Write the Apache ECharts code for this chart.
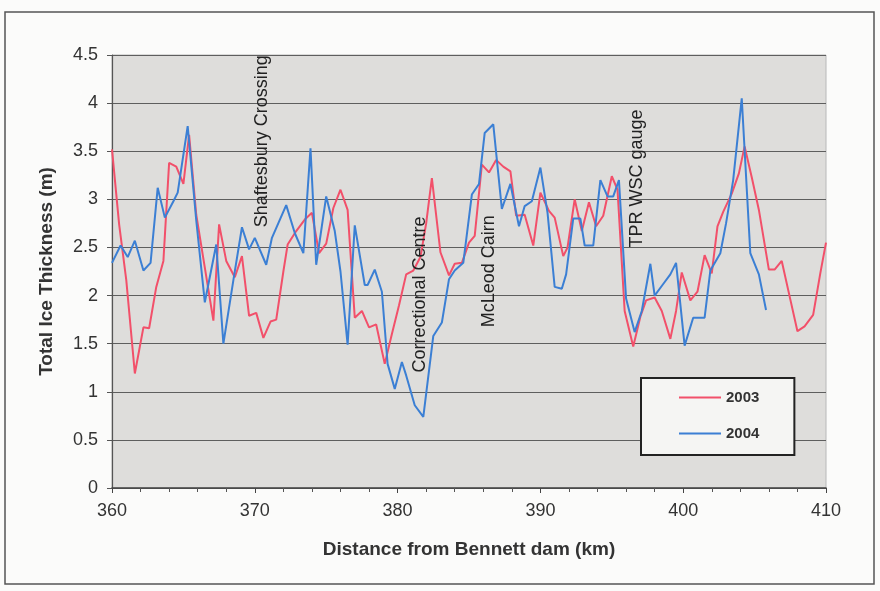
<!DOCTYPE html>
<html>
<head>
<meta charset="utf-8">
<script src="https://cdn.jsdelivr.net/npm/echarts@6/dist/echarts.min.js"></script>
<style>
html,body{margin:0;padding:0;background:#fbfbfa;}
#chart{width:880px;height:591px;}
</style>
</head>
<body>
<div id="chart"></div>
<script>
// ---- data ----
const dist2003 = [360.0,360.5,361.0,361.6,362.2,362.6,363.1,363.6,364.0,364.5,365.0,365.4,365.9,366.5,367.1,367.5,368.0,368.6,369.1,369.6,
  370.1,370.6,371.1,371.5,372.0,372.3,372.9,373.5,374.0,374.5,375.0,375.5,376.0,376.5,377.0,377.5,378.0,378.5,379.1,379.6,
  380.1,380.6,381.1,381.6,382.0,382.4,383.0,383.6,384.0,384.5,385.0,385.4,385.9,386.4,386.9,387.4,387.9,388.3,388.9,389.5,
  390.0,390.6,391.0,391.6,391.9,392.4,392.9,393.4,393.9,394.4,395.0,395.4,395.9,396.5,397.0,397.4,398.0,398.5,399.1,399.5,
  399.9,400.5,401.0,401.5,402.0,402.4,402.8,403.4,403.9,404.3,404.8,405.3,406.0,406.4,406.9,407.5,408.0,408.5,409.1,409.6,410.0];
const ice2003 = [3.52,2.74,2.16,1.19,1.67,1.66,2.09,2.36,3.38,3.34,3.16,3.67,2.84,2.29,1.74,2.74,2.36,2.19,2.41,1.79,
  1.82,1.56,1.73,1.75,2.25,2.53,2.67,2.79,2.86,2.44,2.54,2.91,3.10,2.89,1.77,1.84,1.67,1.70,1.29,1.60,
  1.90,2.22,2.26,2.40,2.75,3.22,2.45,2.21,2.33,2.34,2.55,2.62,3.36,3.28,3.41,3.34,3.29,2.83,2.84,2.52,
  3.07,2.88,2.81,2.41,2.50,3.00,2.67,2.97,2.72,2.83,3.24,3.10,1.84,1.47,1.78,1.95,1.98,1.84,1.55,1.84,
  2.24,1.95,2.04,2.42,2.23,2.72,2.87,3.06,3.27,3.55,3.23,2.89,2.27,2.27,2.36,1.96,1.63,1.68,1.80,2.23,2.55];

const dist2004 = [360.0,360.6,361.1,361.6,362.2,362.7,363.2,363.7,364.3,364.6,365.3,365.9,366.5,367.3,367.8,368.5,369.1,369.6,
  370.0,370.8,371.2,372.2,372.8,373.4,373.9,374.3,375.0,375.6,376.0,376.5,377.0,377.7,377.9,378.4,378.9,379.3,379.8,
  380.3,380.6,381.2,381.8,382.5,383.1,383.6,384.0,384.6,385.2,385.7,386.1,386.7,387.3,387.9,388.5,388.9,389.4,
  390.0,390.5,391.0,391.5,391.8,392.3,392.8,393.1,393.7,394.2,394.7,395.1,395.5,396.0,396.6,397.1,397.7,398.0,398.6,399.1,399.5,
  400.1,400.7,401.5,401.9,402.6,403.0,403.5,404.1,404.7,405.3,405.8];
const ice2004 = [2.34,2.52,2.40,2.57,2.26,2.34,3.12,2.81,2.98,3.07,3.76,2.78,1.93,2.53,1.50,2.16,2.71,2.48,
  2.60,2.32,2.60,2.94,2.65,2.44,3.53,2.32,3.03,2.67,2.25,1.49,2.73,2.11,2.11,2.27,2.04,1.29,1.03,
  1.31,1.17,0.86,0.74,1.58,1.72,2.17,2.26,2.34,3.05,3.16,3.69,3.78,2.90,3.16,2.72,2.93,2.98,
  3.33,2.86,2.09,2.07,2.22,2.80,2.80,2.52,2.52,3.20,3.03,3.03,3.20,1.97,1.62,1.84,2.33,2.00,2.12,2.22,2.34,
  1.48,1.77,1.77,2.26,2.44,2.75,3.20,4.05,2.44,2.22,1.85];

const xTicks = [360, 370, 380, 390, 400, 410];
const yTicks = [0, 0.5, 1, 1.5, 2, 2.5, 3, 3.5, 4, 4.5];

// annotation labels: [text, km, thickness at the text's lower end]
const noteNames = ['Shaftesbury Crossing', 'Correctional Centre', 'McLeod Cairn', 'TPR WSC gauge'];
const noteKm = [370.5, 381.6, 386.4, 396.8];
const noteBase = [2.71, 1.20, 1.67, 2.50];

const chart = echarts.init(document.getElementById('chart'));
const FONT = '"Liberation Sans", Arial, sans-serif';

chart.setOption({
  animation: false,
  backgroundColor: '#fbfbfa',
  grid: {
    left: 112, right: 54, top: 55, bottom: 103,
    show: true, backgroundColor: '#dedddb', borderColor: '#b8b8b8', borderWidth: 1
  },
  legend: {
    orient: 'vertical',
    left: 641, top: 378,
    width: 151,
    padding: [12, 35, 14, 37],
    itemWidth: 42, itemHeight: 14, itemGap: 21,
    backgroundColor: '#f5f5f3',
    borderColor: '#222', borderWidth: 2,
    itemStyle: { opacity: 0 },
    lineStyle: { width: 2 },
    textStyle: { fontFamily: FONT, fontWeight: 'bold', fontSize: 15, color: '#333' },
    data: ['2003', '2004']
  },
  xAxis: {
    type: 'value',
    min: xTicks[0], max: xTicks[xTicks.length - 1], interval: 10,
    name: 'Distance from Bennett dam (km)',
    nameLocation: 'middle', nameGap: 52,
    nameTextStyle: { fontFamily: FONT, fontWeight: 'bold', fontSize: 19, color: '#333' },
    axisLine: { lineStyle: { color: '#444', width: 1.5 } },
    axisTick: { show: true, length: 5, lineStyle: { color: '#444' } },
    minorTick: { show: true, splitNumber: 5, length: 4, lineStyle: { color: '#555' } },
    splitLine: { show: false },
    axisLabel: { fontFamily: FONT, fontSize: 18, color: '#333', margin: 14 }
  },
  yAxis: {
    type: 'value',
    min: yTicks[0], max: yTicks[yTicks.length - 1], interval: 0.5,
    name: 'Total Ice Thickness (m)',
    nameLocation: 'middle', nameGap: 56,
    nameTextStyle: { fontFamily: FONT, fontWeight: 'bold', fontSize: 19, color: '#333' },
    axisLine: { show: true, lineStyle: { color: '#555', width: 1.2 } },
    axisTick: { show: true, length: 5, lineStyle: { color: '#555' } },
    splitLine: { show: true, lineStyle: { color: '#5e5e5e', width: 1 } },
    axisLabel: { fontFamily: FONT, fontSize: 18, color: '#333', margin: 14 }
  },
  series: [
    {
      name: '2003', type: 'line', symbol: 'none',
      lineStyle: { color: '#f2506a', width: 2 },
      itemStyle: { color: '#f2506a' },
      data: dist2003.map((d, i) => [d, ice2003[i]]),
      z: 3
    },
    {
      name: '2004', type: 'line', symbol: 'none',
      lineStyle: { color: '#3b7fd4', width: 2 },
      itemStyle: { color: '#3b7fd4' },
      data: dist2004.map((d, i) => [d, ice2004[i]]),
      z: 4
    }
  ]
});

// outer frame + rotated annotations placed through the chart's own scales
const graphics = [{
  type: 'rect', silent: true, z: -1,
  shape: { x: 5, y: 12, width: 869, height: 572 },
  style: { fill: null, stroke: '#555', lineWidth: 1.5 }
}];
noteNames.forEach((t, i) => {
  const p = chart.convertToPixel({ gridIndex: 0 }, [noteKm[i], noteBase[i]]);
  graphics.push({
    type: 'text', silent: true, z: 10,
    x: p[0], y: p[1], rotation: Math.PI / 2,
    style: {
      text: t, fontFamily: FONT, fontSize: 18, fill: '#222',
      align: 'left', verticalAlign: 'middle'
    }
  });
});
chart.setOption({ graphic: graphics });
</script>
</body>
</html>
